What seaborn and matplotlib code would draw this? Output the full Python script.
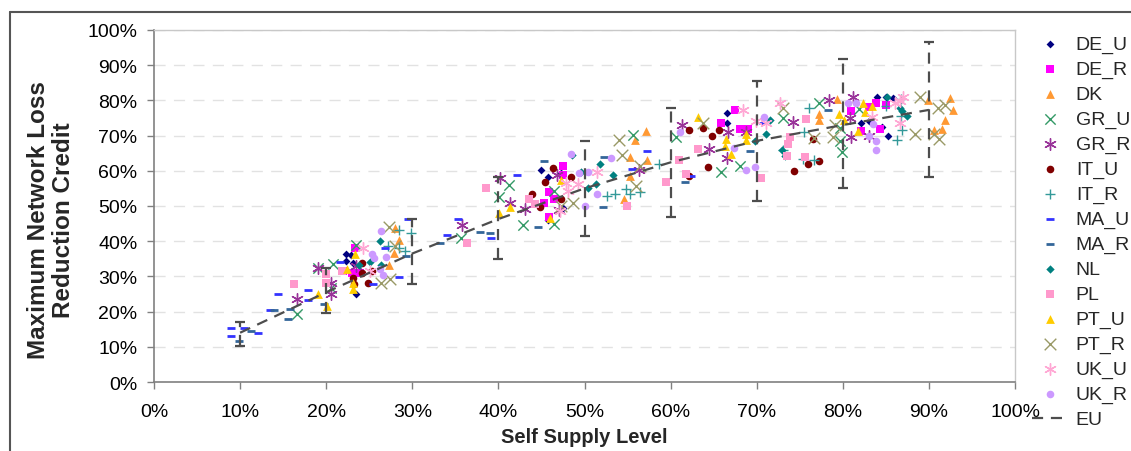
import pandas as pd
import seaborn as sns
import matplotlib.pyplot as plt
from matplotlib.lines import Line2D

# (self supply level %, max network loss reduction credit %) per case
de_u = [(22.3, 36.3), (22.9, 36.1), (22.3, 34.4), (23.1, 33.9), (23.5, 25.1),
        (45.0, 60.1), (45.8, 58.2), (47.3, 59.4), (47.5, 49.5), (45.8, 46.0),
        (66.5, 76.4), (66.5, 73.5), (68.4, 71.8),
        (84.0, 81.1), (85.0, 80.9), (85.8, 80.6), (82.1, 73.7), (83.0, 74.2), (84.5, 72.4), (85.3, 69.8)]
de_r = [(23.3, 38.1), (22.0, 31.5), (23.0, 31.0), (23.9, 30.9),
        (47.5, 61.3), (47.5, 58.7), (45.9, 54.0), (45.3, 50.9), (46.4, 52.1), (45.9, 46.9),
        (67.5, 77.3), (65.9, 73.7), (68.1, 71.8), (69.0, 71.8),
        (81.0, 76.9), (83.0, 78.0), (83.8, 79.2), (85.0, 78.8), (82.1, 71.2), (84.3, 71.8)]
dk = [(28.0, 43.8), (28.4, 40.2), (27.9, 36.7), (27.3, 33.2),
      (55.9, 68.8), (55.3, 63.8), (57.3, 63.2), (57.2, 71.2), (54.6, 52.1), (55.3, 58.6),
      (77.2, 74.3), (77.2, 76.2), (79.3, 80.4),
      (89.9, 80.2), (92.5, 80.6), (92.8, 77.3), (91.9, 74.5), (91.5, 71.8), (90.6, 71.5)]
gr_u = [(16.6, 19.4), (19.1, 32.3), (20.8, 33.4), (20.6, 26.8), (23.5, 38.9),
        (35.7, 41.0), (41.2, 56.1), (40.1, 52.6), (42.9, 44.5), (46.5, 54.4), (46.5, 44.9),
        (55.6, 70.3), (60.6, 69.6), (65.8, 59.6), (68.1, 61.3), (73.0, 75.0),
        (77.2, 79.2), (81.9, 77.5), (79.7, 72.1), (79.7, 68.4), (79.9, 65.2)]
gr_r = [(16.6, 23.7), (19.1, 32.5), (20.6, 28.2), (20.6, 24.9), (23.5, 33.0),
        (35.8, 44.6), (40.2, 58.0), (41.4, 50.9), (43.1, 49.2), (46.8, 58.7), (47.0, 49.0),
        (56.3, 60.1), (61.3, 72.9), (64.5, 66.2), (66.7, 70.9), (66.6, 63.6), (68.8, 70.9),
        (74.2, 74.0), (78.4, 80.0), (81.2, 80.9), (80.8, 75.0), (81.0, 69.6), (83.1, 70.0)]
it_u = [(24.1, 33.9), (24.1, 31.0), (23.1, 29.6), (23.2, 27.8), (24.8, 28.2), (25.3, 31.5),
        (46.3, 60.8), (45.4, 56.8), (43.9, 53.4), (44.8, 49.7), (48.4, 58.2), (47.3, 52.1),
        (62.1, 71.7), (63.8, 72.1), (65.6, 71.7), (64.8, 69.8), (64.4, 61.1), (62.1, 58.6),
        (76.5, 69.0), (76.0, 62.0), (77.2, 62.7), (74.3, 59.9)]
it_r = [(27.2, 38.6), (28.4, 38.1), (29.1, 37.2), (29.9, 42.4), (28.4, 43.1),
        (52.6, 52.8), (53.5, 53.4), (54.8, 54.8), (55.3, 53.4), (56.4, 53.9), (58.6, 61.9),
        (73.1, 66.0), (75.5, 70.9), (76.1, 77.8), (75.4, 63.4), (76.6, 63.0),
        (85.0, 78.3), (86.8, 80.3), (86.8, 75.6), (86.9, 71.7), (86.3, 68.8)]
ma_u = [(9.0, 15.2), (9.0, 13.1), (10.5, 15.2), (12.1, 13.8), (14.4, 24.9), (13.5, 20.4),
        (17.9, 26.1), (17.9, 23.2), (21.6, 34.2), (25.4, 27.8), (28.5, 29.7), (29.5, 46.2), (26.8, 38.1),
        (35.3, 46.2), (34.0, 41.9), (39.1, 41.0), (42.2, 58.9),
        (57.3, 65.7), (55.5, 60.5), (62.4, 58.4), (70.7, 73.5)]
ma_r = [(9.9, 11.7), (11.3, 14.4), (13.9, 20.4), (15.6, 18.0), (15.8, 20.7), (19.7, 22.1), (29.3, 35.8),
        (33.2, 39.6), (37.9, 42.6), (39.0, 42.4),
        (44.6, 44.1), (45.3, 62.9), (52.2, 49.6), (52.3, 63.9), (61.7, 56.7), (69.2, 65.5), (78.3, 77.3)]
nl = [(26.2, 40.0), (25.1, 34.2), (26.4, 33.1), (23.8, 33.1),
      (48.5, 64.4), (51.8, 61.8), (53.3, 58.9), (51.3, 56.3), (50.4, 55.0), (49.6, 59.6),
      (71.1, 70.5), (71.5, 74.5), (72.9, 66.0), (69.8, 68.6), (73.3, 64.3),
      (85.1, 81.1), (86.6, 77.8), (86.9, 77.1), (87.4, 75.6)]
pl = [(16.3, 27.8), (20.0, 30.6), (20.0, 28.2), (21.8, 31.5),
      (36.3, 39.4), (38.6, 55.1), (43.5, 52.0), (44.2, 50.7),
      (54.9, 50.1), (59.5, 56.7), (61.0, 63.2), (63.2, 66.2), (61.8, 59.2), (70.5, 58.0),
      (75.7, 74.8), (73.9, 69.6), (73.6, 67.7), (73.5, 64.1), (75.6, 63.9)]
pt_u = [(19.1, 24.9), (20.1, 21.6), (23.1, 26.3), (23.1, 28.2), (22.4, 32.0), (23.3, 36.3),
        (41.4, 49.7), (40.1, 48.0), (47.3, 57.5), (46.0, 46.6),
        (63.2, 75.3), (66.4, 69.0), (66.3, 67.1), (67.0, 64.8), (68.8, 68.8), (68.8, 70.5),
        (79.6, 76.2), (82.4, 79.3), (82.6, 76.6), (81.8, 71.4), (80.1, 74.5), (83.4, 78.3)]
pt_r = [(27.3, 44.1), (28.0, 38.6), (26.4, 28.2), (27.4, 29.2),
        (48.7, 50.9), (47.3, 50.1),
        (54.0, 68.8), (54.3, 64.6), (56.0, 55.8), (56.4, 61.5), (63.8, 73.5), (73.1, 77.8),
        (79.1, 73.1), (78.9, 69.6), (76.6, 69.3),
        (89.0, 81.1), (91.0, 77.8), (91.9, 78.8), (88.4, 70.5), (90.6, 70.5), (91.2, 69.1)]
uk_u = [(24.3, 38.1), (25.1, 31.5),
        (47.9, 56.5), (48.1, 54.2), (49.3, 56.3), (47.2, 48.5), (51.4, 59.6),
        (68.4, 77.3), (71.1, 73.5), (69.9, 74.2), (72.7, 79.2),
        (83.4, 75.3), (86.7, 73.7), (87.0, 81.1), (86.6, 79.7), (86.1, 79.4)]
uk_r = [(26.4, 42.9), (25.3, 36.3), (25.5, 35.3), (27.0, 35.5), (26.2, 32.0), (26.6, 30.4),
        (48.4, 64.9), (49.4, 59.4), (50.4, 59.7), (51.4, 53.3), (50.0, 50.0), (53.1, 63.6),
        (61.1, 70.9), (70.8, 75.3), (67.4, 66.5), (68.8, 60.3), (69.8, 61.1),
        (80.6, 79.4), (81.5, 79.2), (83.1, 69.8), (83.5, 73.4), (83.9, 68.4), (83.9, 65.8)]

# EU average curve with min / max range
eu_x = [10, 20, 30, 40, 50, 60, 70, 80, 90]
eu_y = [14.0, 25.5, 36.5, 46.3, 55.0, 62.4, 68.5, 73.0, 77.3]
eu_low = [10.3, 19.7, 27.8, 35.0, 41.4, 46.9, 51.4, 55.2, 58.2]
eu_high = [17.1, 32.3, 46.2, 58.2, 68.6, 77.8, 85.4, 91.7, 96.5]

# name, data, marker, colour, size, line width (0 = filled marker)
series = [
    ("DE_U", de_u, "D", "#000080", 16, 0),
    ("DE_R", de_r, "s", "#FF00FF", 28, 0),
    ("DK", dk, "^", "#FF9933", 40, 0),
    ("GR_U", gr_u, "x", "#339966", 55, 1.0),
    ("GR_R", gr_r, (6, 2, 0), "#993399", 70, 1.0),
    ("IT_U", it_u, "o", "#800000", 30, 0),
    ("IT_R", it_r, "+", "#339999", 60, 1.0),
    ("MA_U", ma_u, "_", "#3333FF", 40, 2.0),
    ("MA_R", ma_r, "_", "#336699", 40, 2.0),
    ("NL", nl, "D", "#008080", 18, 0),
    ("PL", pl, "s", "#FF99CC", 30, 0),
    ("PT_U", pt_u, "^", "#FFCC00", 40, 0),
    ("PT_R", pt_r, "x", "#999966", 70, 1.0),
    ("UK_U", uk_u, (6, 2, 0), "#FFA8D4", 70, 1.0),
    ("UK_R", uk_r, "o", "#CC99FF", 30, 0),
]

sns.set_theme(style="white")
plt.rcParams['font.family'] = ['Liberation Sans', 'DejaVu Sans']

fig = plt.figure(figsize=(11.31, 4.52), dpi=100)
ax = fig.add_axes([154 / 1131, 1 - 383 / 452, (1015 - 154) / 1131, (383 - 31) / 452])

for name, pts, marker, color, size, lw in series:
    df = pd.DataFrame(pts, columns=["supply", "credit"])
    sns.scatterplot(data=df, x="supply", y="credit", marker=marker, color=color,
                    s=size, linewidth=lw, label=name, ax=ax, zorder=2)

# EU line and range bars
eu_df = pd.DataFrame({"supply": eu_x, "credit": eu_y})
sns.lineplot(data=eu_df, x="supply", y="credit", color="#4d4d4d", linewidth=1.6,
             label="EU", ax=ax, zorder=4)
ax.lines[-1].set_linestyle((0, (5, 3.5)))
yerr = [[c - lo for c, lo in zip(eu_y, eu_low)], [hi - c for c, hi in zip(eu_y, eu_high)]]
eb = ax.errorbar(eu_x, eu_y, yerr=yerr, fmt="none", ecolor="#4d4d4d", elinewidth=1.6,
                 capsize=3.5, capthick=1.6, zorder=4)
eb[2][0].set_linestyle((0, (5, 3.5)))

ax.set_xlim(0, 100)
ax.set_ylim(0, 100)
ticks = list(range(0, 101, 10))
ax.set_xticks(ticks)
ax.set_yticks(ticks)
ax.set_xticklabels([f"{t}%" for t in ticks])
ax.set_yticklabels([f"{t}%" for t in ticks])
ax.tick_params(axis="both", direction="out", length=5, width=1, color="#808080",
               labelsize=14, labelcolor="black")
ax.tick_params(axis="x", pad=10, bottom=True)
ax.tick_params(axis="y", pad=7, left=True)

ax.yaxis.grid(True, linestyle=(0, (8, 6)), color="#e2e2e2", linewidth=1)
ax.xaxis.grid(False)
ax.set_axisbelow(True)

for side in ["left", "bottom"]:
    ax.spines[side].set_color("#808080")
    ax.spines[side].set_linewidth(1.2)
for side in ["top", "right"]:
    ax.spines[side].set_color("#c8c8c8")
    ax.spines[side].set_linewidth(1.0)

ax.set_xlabel("Self Supply Level", fontsize=14.5, fontweight="bold")
ax.xaxis.set_label_coords(0.5, (383 - 428) / 352)
ax.set_ylabel("")
fig.text(51 / 1131, 1 - 220 / 452, "Maximum Network Loss\nReduction Credit",
         rotation=90, ha="center", va="center", multialignment="center",
         fontsize=17.5, fontweight="bold", linespacing=1.15)

# legend in fixed order
handles, labels = ax.get_legend_handles_labels()
lookup = dict(zip(labels, handles))
order = [s[0] for s in series] + ["EU"]
ax.legend([lookup[n] for n in order], order, loc="upper left",
          bbox_to_anchor=(1032 / 1131, 1 - 36 / 452), bbox_transform=fig.transFigure,
          frameon=False, fontsize=14, labelspacing=0.375, handlelength=1.9,
          handletextpad=0.35, borderpad=0, borderaxespad=0)

# outer frame (top and left edges)
fig.add_artist(Line2D([10 / 1131, 1], [1 - 13 / 452, 1 - 13 / 452], transform=fig.transFigure,
                      color="#555555", linewidth=1.5))
fig.add_artist(Line2D([10 / 1131, 10 / 1131], [0, 1 - 13 / 452], transform=fig.transFigure,
                      color="#555555", linewidth=1.5))

plt.savefig("out.png", dpi=100)
